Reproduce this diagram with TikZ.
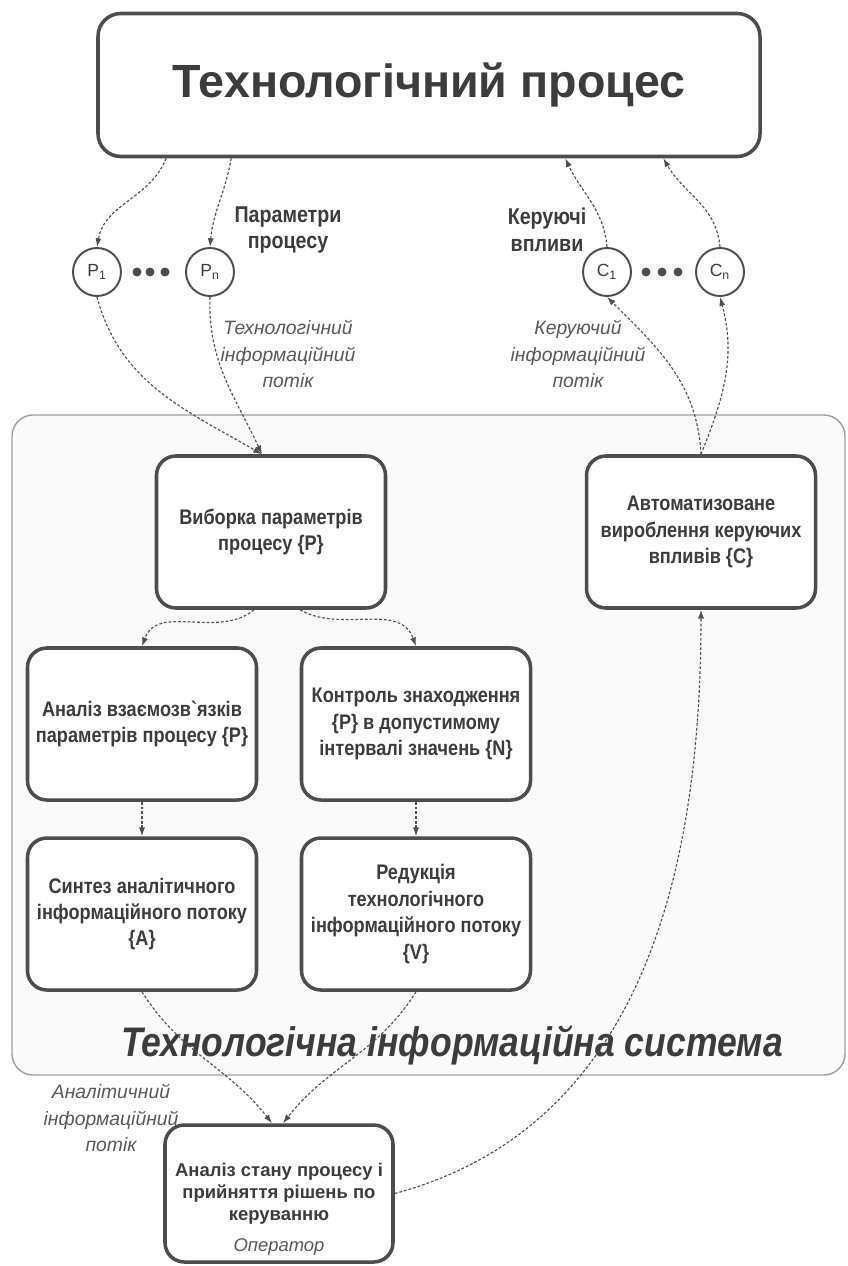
\documentclass[tikz,border=0pt]{standalone}
\usepackage{fontspec}
\setmainfont{Liberation Sans}
\newfontfamily\narrowfont{Liberation Sans}[FakeStretch=0.86]
\usepackage{tikz}
\usetikzlibrary{arrows.meta}
\definecolor{inkgray}{HTML}{3C3C3C}
\definecolor{linegray}{HTML}{4D4D4D}
\definecolor{flowgray}{HTML}{505050}

\begin{document}
\begin{tikzpicture}[
  block/.style={draw=linegray, line width=2pt, rounded corners=11pt, fill=white,
    align=center, minimum width=4.58cm, minimum height=3.04cm, text=inkgray,
    font=\narrowfont\bfseries\fontsize{12}{15}\selectfont},
  param/.style={circle, draw=linegray, line width=1.1pt, fill=white,
    minimum size=0.96cm, inner sep=0pt, text=inkgray,
    font=\fontsize{10}{12}\selectfont},
  caption/.style={align=center, text=inkgray,
    font=\narrowfont\bfseries\fontsize{13}{15}\selectfont},
  flowlabel/.style={align=center, text=inkgray!85,
    font=\itshape\fontsize{11}{15}\selectfont},
  flow/.style={-{Latex[length=5pt,width=3.5pt]}, draw=flowgray,
    line width=0.65pt, dash pattern=on 1.6pt off 1.1pt}
]
  \useasboundingbox (0,0) rectangle (16.94,-25.32);

  % System frame
  \draw[draw=gray!75, line width=0.8pt, rounded corners=12pt, fill=black!2]
    (0.24,-8.3) rectangle (16.9,-21.5);

  % Define nodes
  \node[draw=linegray, line width=2pt, rounded corners=13pt, fill=white,
    minimum width=13.24cm, minimum height=2.86cm, text=inkgray,
    font=\bfseries\fontsize{26.5}{30}\selectfont] (proc) at (8.58,-1.7) {Технологічний процес};

  \node[param] (p1) at (1.94,-5.44) {P\textsubscript{1}};
  \node[param] (pn) at (4.2,-5.44) {P\textsubscript{n}};
  \node[param] (c1) at (12.14,-5.44) {C\textsubscript{1}};
  \node[param] (cn) at (14.4,-5.44) {C\textsubscript{n}};
  \foreach \x in {2.74,3.0,3.3,12.92,13.24,13.56}
    \fill[linegray] (\x,-5.44) circle (0.09);

  \node[caption] (paramlabel) at (5.76,-4.6) {Параметри\\процесу};
  \node[caption] (ctrllabel) at (10.94,-4.6) {Керуючі\\впливи};
  \node[flowlabel] (techflow) at (5.76,-7.08) {Технологічний\\інформаційний\\потік};
  \node[flowlabel] (ctrlflow) at (11.56,-7.08) {Керуючий\\інформаційний\\потік};

  \node[block] (sample) at (5.42,-10.64) {Виборка параметрів\\процесу \{P\}};
  \node[block] (auto) at (14.02,-10.64) {Автоматизоване\\вироблення керуючих\\впливів \{C\}};
  \node[block] (rel) at (2.84,-14.48) {Аналіз взаємозв`язків\\параметрів процесу \{P\}};
  \node[block] (ctl) at (8.32,-14.48) {Контроль знаходження\\\{P\} в допустимому\\інтервалі значень \{N\}};
  \node[block] (syn) at (2.84,-18.28) {Синтез аналітичного\\інформаційного потоку\\\{A\}};
  \node[block] (red) at (8.32,-18.28) {Редукція\\технологічного\\інформаційного потоку\\\{V\}};

  \node[text=inkgray, font=\narrowfont\bfseries\itshape\fontsize{23.5}{28}\selectfont] (systitle)
    at (9.04,-20.9) {Технологічна інформаційна система};
  \node[flowlabel] (anflow) at (2.22,-22.36) {Аналітичний\\інформаційний\\потік};

  \node[block, minimum width=4.56cm, minimum height=2.74cm,
    font=\bfseries\fontsize{10.5}{12.5}\selectfont,
    label={[name=operrole, anchor=south, yshift=1.5pt, text=inkgray!85,
      font=\itshape\fontsize{10.5}{12.5}\selectfont]south:Оператор}] (oper)
    at (5.58,-23.87) {Аналіз стану процесу і\\прийняття рішень по\\керуванню};

  % Connect the nodes
  \draw[flow] ([xshift=1.4cm]proc.south west) to[out=-112,in=80] (p1.north);
  \draw[flow] ([xshift=2.7cm]proc.south west) to[out=-100,in=85] (pn.north);
  \draw[flow] (c1.north) to[out=95,in=-65] ([xshift=9.38cm]proc.south west);
  \draw[flow] (cn.north) to[out=95,in=-60] ([xshift=11.34cm]proc.south west);

  \draw[flow] (p1.south) to[out=-75,in=150] ([xshift=-0.18cm]sample.north);
  \draw[flow] (pn.south) to[out=-92,in=115] ([xshift=-0.18cm]sample.north);

  \draw[flow] ([xshift=-0.34cm]sample.south) to[out=-140,in=70] (rel.north);
  \draw[flow] ([xshift=0.58cm]sample.south) to[out=-30,in=110] (ctl.north);
  \draw[flow] (rel.south) -- (syn.north);
  \draw[flow] (ctl.south) -- (red.north);

  \draw[flow] (syn.south) to[out=-58,in=128] ([xshift=-0.14cm]oper.north);
  \draw[flow] (red.south) to[out=-122,in=52] ([xshift=0.08cm]oper.north);
  \draw[flow] (oper.east) to[out=15,in=-90] (auto.south);

  \draw[flow] (auto.north) to[out=93,in=-45] (c1.south);
  \draw[flow] (auto.north) to[out=68,in=-75] (cn.south);

\end{tikzpicture}
\end{document}
